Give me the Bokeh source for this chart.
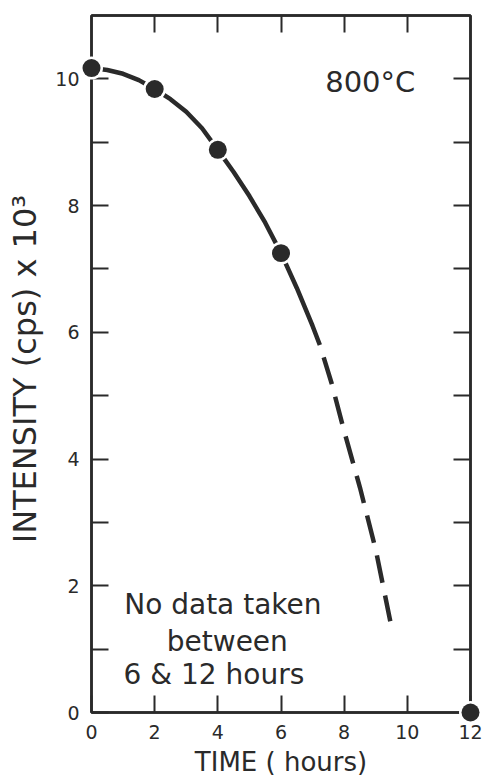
from bokeh.plotting import figure
from bokeh.models import Range1d, LinearAxis, FixedTicker
from bokeh.core.properties import value
from bokeh.embed import file_html
from bokeh.resources import INLINE

# measured data points
time_pts = [0, 2, 4, 6, 12]
intensity_pts = [10.17, 9.84, 8.88, 7.25, 0.0]

# curve (solid part)
curve_t = [0, 0.5, 1.0, 1.5, 2.0, 2.5, 3.0, 3.5, 4.0, 4.5, 5.0, 5.5, 6.0, 6.5, 7.0, 7.23]
curve_y = [10.17, 10.14, 10.08, 9.98, 9.84, 9.68, 9.48, 9.22, 8.88, 8.53, 8.15, 7.73, 7.25, 6.70, 6.10, 5.80]
# extrapolated (dashed) part
dash_t = [7.23, 7.6, 8.0, 8.5, 9.0, 9.46]
dash_y = [5.80, 5.20, 4.44, 3.55, 2.57, 1.44]

x_ticks = [0, 2, 4, 6, 8, 10, 12]
y_ticks = [0, 1, 2, 3, 4, 5, 6, 7, 8, 9, 10]
y_labels = {0: "0", 2: "2", 4: "4", 6: "6", 8: "8", 10: "10"}

note_lines = ["No  data taken", "between", "6  &  12  hours"]
note_y = [1.70, 1.12, 0.60]
note_x = [4.3, 4.3, 4.3]

FONT = "DejaVu Sans"
INK = "#2a2a2a"

p = figure(width=483, height=779, output_backend="svg", toolbar_location=None,
           x_range=Range1d(0, 12), y_range=Range1d(0, 11),
           min_border_left=91, min_border_right=13, min_border_top=15, min_border_bottom=64)
p.grid.visible = False
p.outline_line_color = INK
p.outline_line_width = 2.5

def style_axis(ax, ticks, show_labels=True):
    ax.ticker = FixedTicker(ticks=ticks)
    ax.major_tick_in = 17
    ax.major_tick_out = 0
    ax.minor_tick_in = 0
    ax.minor_tick_out = 0
    ax.major_tick_line_width = 2
    ax.major_tick_line_color = INK
    ax.axis_line_color = INK
    ax.axis_line_width = 2.5
    ax.major_label_text_font = FONT
    ax.major_label_text_color = INK
    ax.major_label_text_font_size = "19px"
    if not show_labels:
        ax.major_label_overrides = {t: "" for t in ticks}
        ax.major_label_text_font_size = "1px"
        ax.major_label_text_color = None
        ax.major_label_standoff = 0

xa = p.xaxis[0]
style_axis(xa, x_ticks)
xa.major_label_standoff = 12
xa.axis_label = "TIME ( hours)"
xa.axis_label_text_font = FONT
xa.axis_label_text_font_style = "normal"
xa.axis_label_text_font_size = "26px"
xa.axis_label_text_color = INK
xa.axis_label_standoff = 5

ya = p.yaxis[0]
style_axis(ya, y_ticks)
ya.major_label_overrides = {t: y_labels.get(t, "") for t in y_ticks}
ya.major_label_standoff = 12
ya.major_label_orientation = "horizontal"
ya.axis_label = "INTENSITY  (cps) x 10³"
ya.axis_label_text_font = FONT
ya.axis_label_text_font_style = "normal"
ya.axis_label_text_font_size = "32px"
ya.axis_label_text_color = INK
ya.axis_label_standoff = 8

top = LinearAxis()
style_axis(top, x_ticks[1:-1], show_labels=False)
p.add_layout(top, "above")
right = LinearAxis()
style_axis(right, y_ticks[1:], show_labels=False)
p.add_layout(right, "right")

p.line(curve_t, curve_y, line_color=INK, line_width=4.5)
p.line(dash_t, dash_y, line_color=INK, line_width=4.5, line_dash="28 13", line_dash_offset=28)

p.scatter(time_pts, intensity_pts, size=18, fill_color=INK, line_color="white", line_width=5, level="overlay")
p.scatter(time_pts, intensity_pts, size=18, fill_color=INK, line_color=None, level="overlay")

p.text(x=[7.4], y=[9.95], text=["800°C"], text_font=value(FONT), text_font_size="29px",
       text_color=INK, text_align="left", text_baseline="middle")

p.text(x=note_x, y=note_y, text=note_lines, text_font=value(FONT), text_font_size="28px",
       text_color=INK, text_align="center", text_baseline="middle")

open("out.html", "w").write(file_html(p, INLINE))
